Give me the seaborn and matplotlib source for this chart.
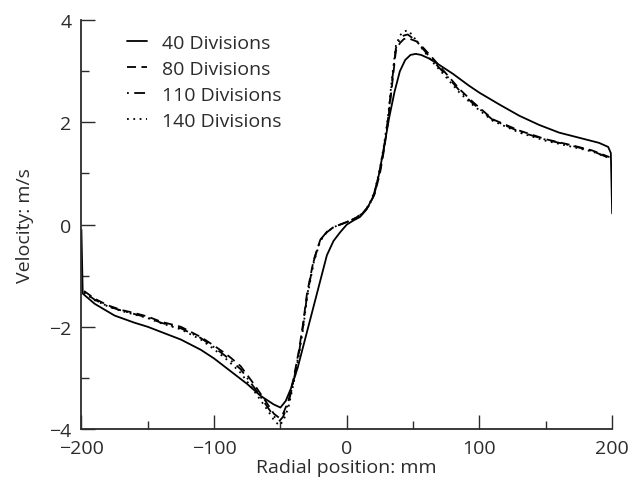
import numpy as np
import pandas as pd
import seaborn as sns
import matplotlib.pyplot as plt
from matplotlib.ticker import MultipleLocator

# radial position (mm) and velocity (m/s)
x40 = [-200, -199, -190, -175, -160, -150, -140, -125, -110, -100, -90, -75, -65, -55, -50, -46,
       -42, -37, -33, -29, -25, -20, -15, -10, -5, 0, 5, 10, 15, 20, 24, 28, 32, 36, 40, 44, 48,
       52, 56, 62, 70, 80, 92, 100, 115, 130, 145, 160, 175, 190, 197, 199, 200]
y40 = [-0.1, -1.35, -1.55, -1.78, -1.92, -2.0, -2.1, -2.25, -2.45, -2.62, -2.82, -3.12, -3.35,
       -3.52, -3.58, -3.45, -3.2, -2.8, -2.4, -2.0, -1.6, -1.1, -0.6, -0.32, -0.15, 0.0, 0.08,
       0.15, 0.3, 0.55, 0.95, 1.5, 2.1, 2.6, 3.0, 3.22, 3.32, 3.34, 3.32, 3.25, 3.12, 2.95, 2.72,
       2.58, 2.35, 2.13, 1.95, 1.8, 1.7, 1.6, 1.52, 1.4, 0.22]

x_fine = [-198, -190, -180, -170, -160, -150, -140, -125, -110, -100, -90, -80, -70, -60, -55,
          -51, -48, -44, -40, -36, -33, -30, -25, -20, -15, -10, -5, 0, 6, 12, 17, 21, 25, 28,
          31, 34, 37, 40, 43, 46, 49, 53, 58, 65, 75, 85, 95, 110, 130, 150, 170, 185, 198]
y80 = [-1.3, -1.45, -1.58, -1.67, -1.73, -1.8, -1.9, -2.0, -2.2, -2.37, -2.55, -2.77, -3.12,
       -3.5, -3.7, -3.78, -3.7, -3.45, -3.0, -2.45, -1.95, -1.35, -0.7, -0.3, -0.15, -0.05, 0.0,
       0.05, 0.12, 0.22, 0.38, 0.6, 1.0, 1.45, 2.0, 2.7, 3.4, 3.55, 3.63, 3.65, 3.62, 3.58, 3.45,
       3.25, 2.95, 2.65, 2.4, 2.06, 1.84, 1.67, 1.55, 1.45, 1.32]
y110 = [-1.32, -1.47, -1.6, -1.68, -1.75, -1.82, -1.92, -2.03, -2.22, -2.4, -2.6, -2.83, -3.18,
        -3.56, -3.75, -3.85, -3.76, -3.5, -3.05, -2.5, -2.0, -1.4, -0.72, -0.3, -0.14, -0.05, 0.0,
        0.05, 0.12, 0.22, 0.38, 0.62, 1.05, 1.5, 2.05, 2.78, 3.45, 3.62, 3.7, 3.72, 3.66, 3.58,
        3.42, 3.2, 2.92, 2.62, 2.37, 2.05, 1.82, 1.66, 1.54, 1.44, 1.3]
y140 = [-1.33, -1.48, -1.6, -1.69, -1.76, -1.83, -1.93, -2.05, -2.25, -2.44, -2.65, -2.9, -3.25,
        -3.62, -3.82, -3.93, -3.85, -3.58, -3.1, -2.55, -2.05, -1.45, -0.75, -0.32, -0.15, -0.05,
        0.0, 0.05, 0.12, 0.22, 0.4, 0.65, 1.1, 1.55, 2.1, 2.85, 3.5, 3.7, 3.78, 3.8, 3.72, 3.58,
        3.4, 3.17, 2.88, 2.58, 2.34, 2.03, 1.8, 1.64, 1.52, 1.43, 1.3]

labels = ["40 Divisions", "80 Divisions", "110 Divisions", "140 Divisions"]

df = pd.concat([
    pd.DataFrame({"x": x40, "y": y40, "mesh": labels[0]}),
    pd.DataFrame({"x": x_fine, "y": y80, "mesh": labels[1]}),
    pd.DataFrame({"x": x_fine, "y": y110, "mesh": labels[2]}),
    pd.DataFrame({"x": x_fine, "y": y140, "mesh": labels[3]}),
])

sns.set_style("ticks")
plt.rcParams["font.family"] = ["Open Sans", "DejaVu Sans"]
ink = "#2b2b2b"

fig = plt.figure(figsize=(6.41, 4.81), dpi=100)
ax = fig.add_axes([0.127, 0.106, 0.828, 0.85])

dashes = {labels[0]: "", labels[1]: (5, 3), labels[2]: (1, 3, 6, 3), labels[3]: (1, 2.5)}
sns.lineplot(data=df, x="x", y="y", style="mesh", dashes=dashes, color="black",
             estimator=None, sort=False, linewidth=1.3, ax=ax)

ax.set_xlim(-200, 200)
ax.set_ylim(-4, 4)
ax.xaxis.set_major_locator(MultipleLocator(100))
ax.xaxis.set_minor_locator(MultipleLocator(50))
ax.yaxis.set_major_locator(MultipleLocator(2))
ax.yaxis.set_minor_locator(MultipleLocator(1))
ax.tick_params(which="major", direction="in", length=10, width=1, color=ink,
               labelsize=14, labelcolor=ink)
ax.tick_params(axis="x", which="major", pad=7)
ax.tick_params(axis="y", which="major", pad=7)
ax.tick_params(which="minor", direction="in", length=6, width=1, color=ink)
sns.despine(ax=ax)
for s in ["left", "bottom"]:
    ax.spines[s].set_color(ink)
    ax.spines[s].set_linewidth(1.3)

ax.set_xlabel("Radial position: mm", fontsize=14, color=ink, labelpad=1)
ax.set_ylabel("Velocity: m/s", fontsize=14, color=ink, labelpad=11)

leg = ax.legend(loc="upper left", bbox_to_anchor=(0.052, 1.01), frameon=False,
                fontsize=14, handlelength=1.05, labelspacing=0.42, handletextpad=0.8)
for t in leg.get_texts():
    t.set_color(ink)

fig.savefig("out.png", dpi=100)
